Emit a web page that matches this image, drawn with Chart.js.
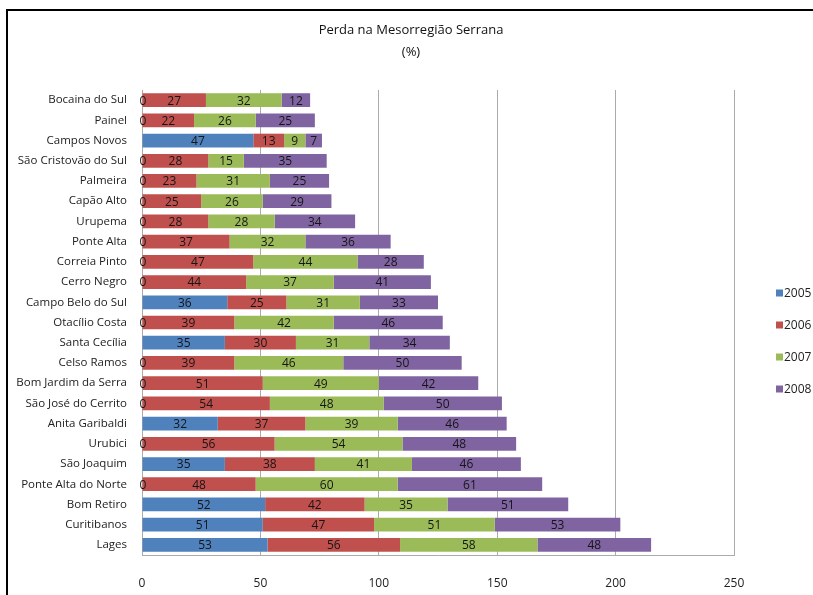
<!DOCTYPE html>
<html>
<head>
<meta charset="utf-8">
<script src="https://cdn.jsdelivr.net/npm/chart.js@4/dist/chart.umd.min.js"></script>
<style>
  html, body { margin: 0; padding: 0; background: #fff; overflow: hidden; }
  #frame { position: absolute; left: 6px; top: 9px; width: 820px; height: 600px;
           border-top: 2px solid #000; border-left: 2px solid #000; }
  #chart { position: absolute; left: 0; top: 0; }
</style>
</head>
<body>
<div id="frame"></div>
<canvas id="chart" width="813" height="595"></canvas>
<script>
// municipios, de cima para baixo
const municipios = [
  'Bocaina do Sul', 'Painel', 'Campos Novos', 'São Cristovão do Sul', 'Palmeira',
  'Capão Alto', 'Urupema', 'Ponte Alta', 'Correia Pinto', 'Cerro Negro',
  'Campo Belo do Sul', 'Otacílio Costa', 'Santa Cecília', 'Celso Ramos',
  'Bom Jardim da Serra', 'São José do Cerrito', 'Anita Garibaldi', 'Urubici',
  'São Joaquim', 'Ponte Alta do Norte', 'Bom Retiro', 'Curitibanos', 'Lages'
]
const perda2005 = [0, 0, 47, 0, 0, 0, 0, 0, 0, 0, 36, 0, 35, 0, 0, 0, 32, 0, 35, 0, 52, 51, 53]
const perda2006 = [27, 22, 13, 28, 23, 25, 28, 37, 47, 44, 25, 39, 30, 39, 51, 54, 37, 56, 38, 48, 42, 47, 56]
const perda2007 = [32, 26, 9, 15, 31, 26, 28, 32, 44, 37, 31, 42, 31, 46, 49, 48, 39, 54, 41, 60, 35, 51, 58]
const perda2008 = [12, 25, 7, 35, 25, 29, 34, 36, 28, 41, 33, 46, 34, 50, 42, 50, 46, 48, 46, 61, 51, 53, 48]
const anos = ['2005', '2006', '2007', '2008']
const cores = ['#4F81BD', '#C0504D', '#9BBB59', '#8064A2']
const eixoX = [0, 250, 50]

const fonte = '"Open Sans", Lato, sans-serif'

// numero dentro de cada segmento (o zero fica sobre o eixo)
const rotulos = {
    id: 'rotulos',
    afterDatasetsDraw(chart) {
        const ctx = chart.ctx
        ctx.save()
        ctx.font = '12px ' + fonte
        ctx.fillStyle = '#151515'
        ctx.textAlign = 'center'
        ctx.textBaseline = 'middle'
        chart.data.datasets.forEach((ds, i) => {
            chart.getDatasetMeta(i).data.forEach((bar, j) => {
                const v = ds.data[j]
                const x = v === 0 ? bar.base + 1 : (bar.x + bar.base) / 2
                ctx.fillText(String(v), x, bar.y + 1)
            })
        })
        ctx.restore()
    }
}

// titulo e legenda
const extras = {
    id: 'extras',
    afterDraw(chart) {
        const ctx = chart.ctx
        ctx.save()
        ctx.fillStyle = '#111'
        ctx.textAlign = 'center'
        ctx.textBaseline = 'middle'
        ctx.font = '13px ' + fonte
        ctx.fillText('Perda na Mesorregião Serrana', 411, 30)
        ctx.fillText('(%)', 411, 52)

        ctx.font = '12px ' + fonte
        ctx.textAlign = 'left'
        chart.data.datasets.forEach((ds, i) => {
            const y = 293 + i * 32
            ctx.fillStyle = ds.backgroundColor
            ctx.fillRect(776, y - 3.5, 7, 7)
            ctx.fillStyle = '#222'
            ctx.fillText(ds.label, 784, y + 1)
        })
        ctx.restore()
    }
}

const series = [perda2005, perda2006, perda2007, perda2008]

const data = {
    labels: municipios,
    datasets: series.map((valores, i) => ({
        label: anos[i],
        data: valores,
        backgroundColor: cores[i],
        borderWidth: 0,
        barPercentage: 0.68,
        categoryPercentage: 1
    }))
}

const config = {
    type: 'bar',
    data: data,
    options: {
        indexAxis: 'y',
        responsive: false,
        animation: false,
        layout: { padding: { top: 90, right: 79, left: 0, bottom: 0 } },
        plugins: {
            legend: { display: false },
            title: { display: false },
            tooltip: { enabled: false }
        },
        scales: {
            x: {
                stacked: true,
                min: eixoX[0],
                max: eixoX[1],
                ticks: { stepSize: eixoX[2], padding: 21, color: '#222', font: { family: fonte, size: 12 } },
                grid: { color: '#ababab', lineWidth: 1, drawTicks: false },
                border: { display: true, color: '#ababab' },
                afterFit: (scale) => { scale.height = 40 }
            },
            y: {
                stacked: true,
                ticks: { padding: 15, color: '#222', font: { family: fonte, size: 11.5 } },
                grid: { display: false, drawTicks: false },
                border: { display: true, color: '#ababab' },
                afterFit: (scale) => { scale.width = 142 }
            }
        }
    },
    plugins: [rotulos, extras]
}

new Chart(document.getElementById('chart'), config)
</script>
</body>
</html>
